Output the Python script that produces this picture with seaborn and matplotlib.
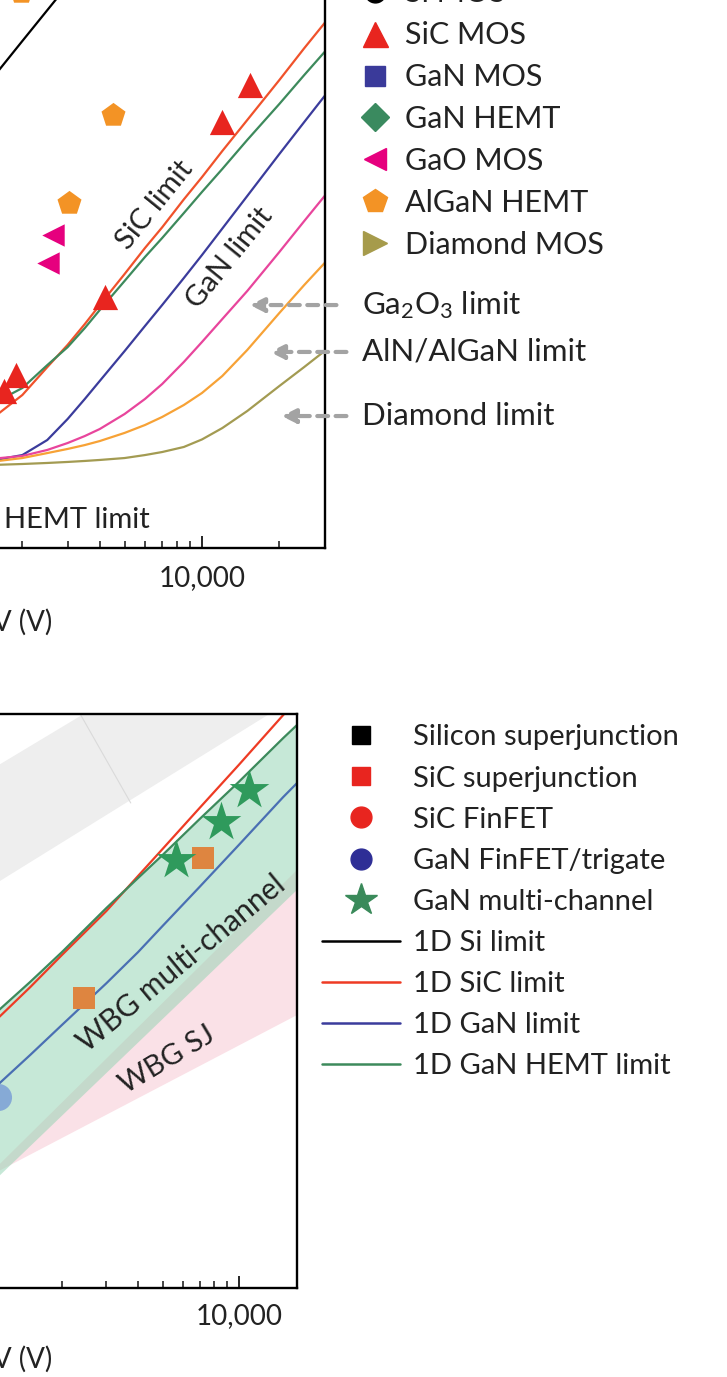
import pandas as pd
import matplotlib.pyplot as plt
import seaborn as sns
from matplotlib.lines import Line2D
from matplotlib.ticker import FuncFormatter, LogLocator, NullFormatter

sns.set_theme(style="ticks")
plt.rcParams['font.family'] = ['Lato', 'DejaVu Sans']
plt.rcParams['mathtext.fontset'] = 'custom'
plt.rcParams['mathtext.rm'] = 'Lato'
plt.rcParams['mathtext.it'] = 'Lato'
plt.rcParams['mathtext.default'] = 'regular'

# ---------------- top panel data (V in volts, R in mOhm cm2) ----------------
V_TOP = [1500, 2000, 2500, 3000, 3500, 4000, 5000, 6000, 7000, 8500,
         10000, 12000, 15000, 20000, 25000, 30000]
SIC_LIMIT = [0.631, 0.904, 1.35, 1.86, 2.51, 3.30, 5.16, 7.50, 10.1, 15.1,
             20.8, 30.3, 47.3, 84.1, 133, 191]
GAN_HEMT_LIMIT = [0.783, 1.0, 1.39, 1.80, 2.37, 3.07, 4.67, 6.59, 8.66, 12.4,
                  16.8, 23.4, 35.5, 59.6, 90.4, 126]
GAN_LIMIT = [0.350, 0.381, 0.473, 0.640, 0.854, 1.106, 1.702, 2.441, 3.302, 4.870,
             6.778, 9.928, 15.85, 29.0, 45.97, 66.83]
GA2O3_LIMIT = [0.360, 0.376, 0.410, 0.453, 0.501, 0.554, 0.688, 0.854, 1.059, 1.454,
               1.939, 2.699, 4.038, 7.079, 11.06, 15.85]
ALN_LIMIT = [0.345, 0.365, 0.392, 0.416, 0.440, 0.466, 0.524, 0.587, 0.659, 0.783,
             0.931, 1.189, 1.728, 2.943, 4.404, 6.04]
DIAMOND_LIMIT = [0.330, 0.335, 0.340, 0.345, 0.350, 0.355, 0.365, 0.381, 0.398, 0.428,
                 0.477, 0.562, 0.718, 1.029, 1.353, 1.702]
SI_V = [1000, 1500, 2000, 3000]
SI_LIMIT = [43.4, 83.0, 147.5, 330]

SIC_MOS_V = [1693, 1884, 4207, 11950, 15350]
SIC_MOS_R = [0.957, 1.21, 3.70, 46.0, 78.3]
ALGAN_V = [1972, 3025, 4518]
ALGAN_R = [298, 14.3, 50.8]
GAO_V = [2506, 2625]
GAO_R = [6.04, 9.04]

# arrows to the limit curves
ARROW_LABELS = ["Ga$_2$O$_3$ limit", "AlN/AlGaN limit", "Diamond limit"]
ARROW_Y = [3.30, 1.68, 0.668]
ARROW_HEAD_V = [15350, 18350, 20410]
ARROW_TAIL_V = [33360, 36480, 36480]

# ---------------- bottom panel data ----------------
V_BOT = [1000, 1500, 2000, 3000, 4000, 5000, 7000, 10000, 15000, 17000]
SIC_1D = [6.28, 12.5, 20.9, 42.4, 74.3, 114.6, 221, 441, 984, 1253]
GAN_HEMT_1D = [7.14, 13.6, 21.9, 44.5, 71.9, 104, 185, 336, 680, 838]
GAN_1D = [2.18, 4.21, 6.80, 13.3, 21.9, 33.3, 62.3, 122, 264, 330]

BAND_V = [1000, 17000]
SI_SJ_UPPER = [394, 7925]
SI_SJ_LOWER = [60.3, 1334]
SI_SJ_SEP_V = [2375, 3743]
SI_SJ_SEP_R = [984, 240]
MC_LOWER = [0.490, 59.4]
SJ_V = [1000, 17000, 17000]
SJ_R = [0.585, 81.8, 7.98]

STAR_V = [5636, 8489, 10950]
STAR_R = [96.1, 177, 295]
SQ_V = [2440, 7206]
SQ_R = [10.5, 99.3]
FIN_V = [1115]
FIN_R = [2.14]

fig = plt.figure(figsize=(7.27, 13.77), dpi=100)
W, H = 727, 1377
TXT = '#222222'

def style_axis(ax):
    ax.set_xscale('log')
    ax.set_yscale('log')
    for sp in ax.spines.values():
        sp.set_linewidth(1.7)
        sp.set_color('black')
    ax.xaxis.set_major_locator(LogLocator(base=10, numticks=10))
    ax.xaxis.set_minor_locator(LogLocator(base=10, subs=range(2, 10), numticks=20))
    # only the 10,000 label is inside the visible window
    ax.xaxis.set_major_formatter(FuncFormatter(lambda v, p: f"{v:,.0f}" if v >= 1e4 else ""))
    ax.xaxis.set_minor_formatter(NullFormatter())
    ax.tick_params(axis='x', which='major', direction='in', length=9, width=1.4,
                   labelsize=20, labelcolor=TXT, top=False)
    ax.tick_params(axis='x', which='minor', direction='in', length=5, width=1.2, top=False)
    ax.tick_params(axis='y', which='both', left=False, right=False, labelleft=False)
    ax.set_ylabel('')

# ================= TOP PANEL =================
ax1 = fig.add_axes([-312 / W, (H - 548) / H, 636.6 / W, 608 / H])
style_axis(ax1)
ax1.set_xlim(100, 30000)
ax1.set_ylim(0.1, 631)
ax1.tick_params(axis='x', which='major', pad=12)

limit_colors = {'SiC': '#f0522b', 'GaN HEMT': '#3d8a5c', 'GaN': '#3b3c9c',
                'Ga2O3': '#e8459c', 'AlN': '#f7a236', 'Diamond': '#a39b52'}
top_df = pd.DataFrame({
    'V': V_TOP * 6,
    'R': SIC_LIMIT + GAN_HEMT_LIMIT + GAN_LIMIT + GA2O3_LIMIT + ALN_LIMIT + DIAMOND_LIMIT,
    'limit': sum([[k] * len(V_TOP) for k in limit_colors], []),
})
sns.lineplot(data=top_df, x='V', y='R', hue='limit', palette=limit_colors, sort=False,
             estimator=None, legend=False, linewidth=1.6, ax=ax1)
sns.lineplot(x=SI_V, y=SI_LIMIT, color='black', linewidth=1.6, ax=ax1)

sns.scatterplot(x=SIC_MOS_V, y=SIC_MOS_R, marker='^', s=330, color='#e8251f', linewidth=0, ax=ax1, zorder=5)
sns.scatterplot(x=ALGAN_V, y=ALGAN_R, marker='p', s=330, color='#f39325', linewidth=0, ax=ax1, zorder=5)
sns.scatterplot(x=GAO_V, y=GAO_R, marker='<', s=260, color='#e6007e', linewidth=0, ax=ax1, zorder=5)

ax1.text(6580, 13.9, "SiC limit", rotation=51, rotation_mode='anchor', ha='center', va='center',
         fontsize=21, color=TXT)
ax1.text(12840, 6.49, "GaN limit", rotation=51, rotation_mode='anchor', ha='center', va='center',
         fontsize=21, color=TXT)
ax1.text(6285, 0.150, "HEMT limit", ha='right', va='center', fontsize=21, color=TXT)

for lab, y, hv, tv in zip(ARROW_LABELS, ARROW_Y, ARROW_HEAD_V, ARROW_TAIL_V):
    ax1.annotate('', xy=(hv, y), xytext=(tv, y), annotation_clip=False,
                 arrowprops=dict(arrowstyle='-|>,head_length=0.7,head_width=0.35',
                                 color='#a3a3a3', lw=3, linestyle=(0, (2.6, 1.8)),
                                 shrinkA=0, shrinkB=0))
    ax1.text(42080, y, lab, ha='left', va='center', fontsize=22.5, color=TXT, clip_on=False)

ax1.set_xlabel('BV (V)', fontsize=20, color=TXT)
ax1.xaxis.set_label_coords((52 + 312) / 636.6, (548 - 622) / 608)
ax1.xaxis.label.set_horizontalalignment('right')
ax1.xaxis.label.set_verticalalignment('center')

top_handles = [
    Line2D([], [], ls='none', marker='o', ms=15, color='black', label='Si MOS'),
    Line2D([], [], ls='none', marker='^', ms=18, color='#e8251f', label='SiC MOS'),
    Line2D([], [], ls='none', marker='s', ms=14, color='#3a3a9a', label='GaN MOS'),
    Line2D([], [], ls='none', marker='D', ms=14, color='#3a8a5f', label='GaN HEMT'),
    Line2D([], [], ls='none', marker='<', ms=16, color='#e6007e', label='GaO MOS'),
    Line2D([], [], ls='none', marker='p', ms=18, color='#f39325', label='AlGaN HEMT'),
    Line2D([], [], ls='none', marker='>', ms=17, color='#a69b4b', label='Diamond MOS'),
]
leg1 = fig.legend(handles=top_handles, loc='upper left', bbox_to_anchor=(360 / W, (H + 20.6) / H),
                  frameon=False, fontsize=22, borderaxespad=0, borderpad=0, handlelength=1.0,
                  handletextpad=0.47, labelspacing=0.455, numpoints=1)
for t in leg1.get_texts():
    t.set_color(TXT)

# ================= BOTTOM PANEL =================
ax2 = fig.add_axes([-267.3 / W, 89 / H, 564.3 / W, 574 / H])
style_axis(ax2)
ax2.set_xlim(100, 17000)
ax2.set_ylim(0.1, 1000)
ax2.tick_params(axis='x', which='major', pad=11)

ax2.fill_between(BAND_V, SI_SJ_LOWER, SI_SJ_UPPER, color='#eeeeee', linewidth=0, zorder=0)
ax2.plot(SI_SJ_SEP_V, SI_SJ_SEP_R, color='#dadada', linewidth=0.8, zorder=0.5)
ax2.fill(SJ_V, SJ_R, color='#f8cdd7', alpha=0.6, linewidth=0, zorder=0.6)
ax2.fill(V_BOT + BAND_V[::-1], GAN_HEMT_1D + MC_LOWER[::-1], color='#8fd3b0', alpha=0.5,
         linewidth=0, zorder=0.7)

bot_colors = {'1D SiC': '#ee3b24', '1D GaN HEMT': '#3d8a5c', '1D GaN': '#4a6fb3'}
bot_df = pd.DataFrame({
    'V': V_BOT * 3,
    'R': SIC_1D + GAN_HEMT_1D + GAN_1D,
    'limit': sum([[k] * len(V_BOT) for k in bot_colors], []),
})
sns.lineplot(data=bot_df, x='V', y='R', hue='limit', palette=bot_colors, sort=False,
             estimator=None, legend=False, linewidth=1.6, ax=ax2)

sns.scatterplot(x=SQ_V, y=SQ_R, marker='s', s=260, color='#de8540', linewidth=0, ax=ax2, zorder=5)
sns.scatterplot(x=FIN_V, y=FIN_R, marker='o', s=380, color='#86aad6', linewidth=0, ax=ax2, zorder=5)
sns.scatterplot(x=STAR_V, y=STAR_R, marker='*', s=900, color='#2f9a5c', linewidth=0, ax=ax2, zorder=5)

ax2.text(5953, 18.1, "WBG multi-channel", rotation=39.5, rotation_mode='anchor', ha='center',
         va='center', fontsize=21.5, color=TXT)
ax2.text(5241, 3.88, "WBG SJ", rotation=31, rotation_mode='anchor', ha='center',
         va='center', fontsize=21, color=TXT)

ax2.set_xlabel('BV (V)', fontsize=20, color=TXT)
ax2.xaxis.set_label_coords((52 + 267.3) / 564.3, (1288 - 1359) / 574)
ax2.xaxis.label.set_horizontalalignment('right')
ax2.xaxis.label.set_verticalalignment('center')

bot_handles = [
    Line2D([], [], ls='none', marker='s', ms=13, color='black', label='Silicon superjunction'),
    Line2D([], [], ls='none', marker='s', ms=13, color='#e8251f', label='SiC superjunction'),
    Line2D([], [], ls='none', marker='o', ms=15, color='#e8251f', label='SiC FinFET'),
    Line2D([], [], ls='none', marker='o', ms=15, color='#2e2e96', label='GaN FinFET/trigate'),
    Line2D([], [], ls='none', marker='*', ms=24, color='#3a8a5a', label='GaN multi-channel'),
    Line2D([], [], color='black', lw=1.8, label='1D Si limit'),
    Line2D([], [], color='#ee3b24', lw=1.8, label='1D SiC limit'),
    Line2D([], [], color='#3b3c9c', lw=1.8, label='1D GaN limit'),
    Line2D([], [], color='#3d8a5c', lw=1.8, label='1D GaN HEMT limit'),
]
leg2 = fig.legend(handles=bot_handles, loc='upper left', bbox_to_anchor=(322 / W, (H - 724.4) / H),
                  frameon=False, fontsize=21, borderaxespad=0, borderpad=0, handlelength=2.67,
                  handletextpad=0.45, labelspacing=0.518, numpoints=1)
for t in leg2.get_texts():
    t.set_color(TXT)

fig.savefig('out.png', dpi=100)
